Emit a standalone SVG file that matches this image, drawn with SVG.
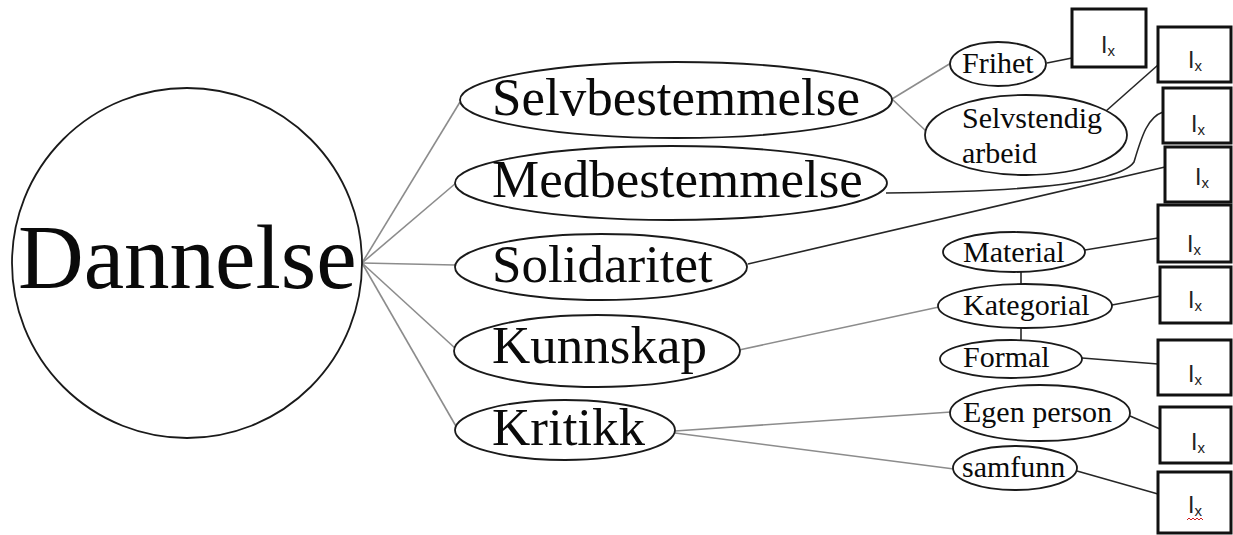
<svg xmlns="http://www.w3.org/2000/svg" width="1233" height="535" viewBox="0 0 1233 535">
  <style>
    .bg { fill: #ffffff; }
    .shape { fill: #ffffff; stroke: #1a1a1a; stroke-width: 1.8; }
    .box { fill: #ffffff; stroke: #111111; stroke-width: 3; }
    .serif { font-family: "Liberation Serif", "Times New Roman", serif; fill: #0a0a0a; }
    .big { font-size: 53px; }
    .small { font-size: 30px; }
    .lbl { font-family: "Liberation Sans", Arial, sans-serif; fill: #222222; font-size: 23px; }
    .sub { font-size: 15px; }
    .grey { fill: none; stroke: #8c8c8c; stroke-width: 1.6; }
    .dark { fill: none; stroke: #262626; stroke-width: 1.6; }
  </style>
  <rect class="bg" x="0" y="0" width="1233" height="535"/>

  <!-- connectors -->
  <g id="connectors">
    <line class="grey" x1="362" y1="263" x2="460" y2="102"/>
    <line class="grey" x1="362" y1="263" x2="456" y2="183"/>
    <line class="grey" x1="362" y1="263" x2="455" y2="265"/>
    <line class="grey" x1="362" y1="263" x2="456" y2="349"/>
    <line class="grey" x1="362" y1="263" x2="457" y2="428"/>
    <line class="grey" x1="892" y1="99" x2="951" y2="63"/>
    <line class="grey" x1="892" y1="99" x2="926" y2="131"/>
    <line class="dark" x1="1047" y1="63" x2="1072" y2="58"/>
    <line class="dark" x1="1106" y1="111" x2="1158" y2="65"/>
    <path class="dark" d="M886,193 C1000,192 1118,186 1134,162 C1142,135 1148,117 1163,112"/>
    <line class="dark" x1="748" y1="264" x2="1165" y2="167"/>
    <line class="grey" x1="739" y1="350" x2="939" y2="307"/>
    <line class="dark" x1="1021" y1="272" x2="1021" y2="285"/>
    <line class="dark" x1="1021" y1="328" x2="1021" y2="340"/>
    <line class="dark" x1="1085" y1="250" x2="1158" y2="238"/>
    <line class="dark" x1="1112" y1="305" x2="1160" y2="296"/>
    <line class="dark" x1="1082" y1="358" x2="1158" y2="364"/>
    <line class="grey" x1="675" y1="431" x2="951" y2="412"/>
    <line class="grey" x1="675" y1="433" x2="954" y2="469"/>
    <line class="dark" x1="1130" y1="416" x2="1160" y2="429"/>
    <line class="dark" x1="1077" y1="471" x2="1158" y2="494"/>
  </g>

  <!-- central node -->
  <g id="dannelse">
    <circle class="shape" cx="187" cy="263" r="175"/>
    <text class="serif" x="18" y="288" font-size="91">Dannelse</text>
  </g>

  <!-- main themes -->
  <g id="selvbestemmelse">
    <ellipse class="shape" cx="676" cy="100" rx="216" ry="38"/>
    <text class="serif big" x="492" y="115">Selvbestemmelse</text>
  </g>
  <g id="medbestemmelse">
    <ellipse class="shape" cx="671" cy="183" rx="216" ry="37"/>
    <text class="serif big" x="492" y="197">Medbestemmelse</text>
  </g>
  <g id="solidaritet">
    <ellipse class="shape" cx="601" cy="267" rx="146" ry="33"/>
    <text class="serif big" x="492" y="282">Solidaritet</text>
  </g>
  <g id="kunnskap">
    <ellipse class="shape" cx="597" cy="351" rx="143" ry="36"/>
    <text class="serif big" x="492" y="363">Kunnskap</text>
  </g>
  <g id="kritikk">
    <ellipse class="shape" cx="565" cy="430" rx="110" ry="30"/>
    <text class="serif big" x="492" y="445">Kritikk</text>
  </g>

  <!-- sub themes -->
  <g id="frihet">
    <ellipse class="shape" cx="998" cy="64" rx="48" ry="22"/>
    <text class="serif small" x="962" y="73">Frihet</text>
  </g>
  <g id="selvstendig-arbeid">
    <ellipse class="shape" cx="1026" cy="135" rx="101" ry="40"/>
    <text class="serif small" x="962" y="128">Selvstendig</text>
    <text class="serif small" x="962" y="163">arbeid</text>
  </g>
  <g id="material">
    <ellipse class="shape" cx="1014" cy="252" rx="71" ry="20"/>
    <text class="serif small" x="963" y="262">Material</text>
  </g>
  <g id="kategorial">
    <ellipse class="shape" cx="1025" cy="306" rx="87" ry="22"/>
    <text class="serif small" x="963" y="315">Kategorial</text>
  </g>
  <g id="formal">
    <ellipse class="shape" cx="1011" cy="359" rx="71" ry="19"/>
    <text class="serif small" x="963" y="367">Formal</text>
  </g>
  <g id="egen-person">
    <ellipse class="shape" cx="1040" cy="413" rx="90" ry="28"/>
    <text class="serif small" x="963" y="422">Egen person</text>
  </g>
  <g id="samfunn">
    <ellipse class="shape" cx="1015" cy="468" rx="62" ry="22"/>
    <text class="serif small" x="962" y="477">samfunn</text>
  </g>

  <!-- index boxes -->
  <g id="ix-1">
    <rect class="box" x="1072" y="9" width="74" height="58"/>
    <text class="lbl" x="1101" y="53">I<tspan class="sub" dy="3">x</tspan></text>
  </g>
  <g id="ix-2">
    <rect class="box" x="1158" y="27" width="73" height="55"/>
    <text class="lbl" x="1188" y="68">I<tspan class="sub" dy="3">x</tspan></text>
  </g>
  <g id="ix-3">
    <rect class="box" x="1163" y="88" width="68" height="55"/>
    <text class="lbl" x="1191" y="132">I<tspan class="sub" dy="3">x</tspan></text>
  </g>
  <g id="ix-4">
    <rect class="box" x="1165" y="147" width="66" height="55"/>
    <text class="lbl" x="1195" y="185">I<tspan class="sub" dy="3">x</tspan></text>
  </g>
  <g id="ix-5">
    <rect class="box" x="1158" y="205" width="73" height="57"/>
    <text class="lbl" x="1187" y="252">I<tspan class="sub" dy="3">x</tspan></text>
  </g>
  <g id="ix-6">
    <rect class="box" x="1160" y="267" width="71" height="56"/>
    <text class="lbl" x="1188" y="308">I<tspan class="sub" dy="3">x</tspan></text>
  </g>
  <g id="ix-7">
    <rect class="box" x="1158" y="340" width="73" height="55"/>
    <text class="lbl" x="1188" y="382">I<tspan class="sub" dy="3">x</tspan></text>
  </g>
  <g id="ix-8">
    <rect class="box" x="1160" y="407" width="71" height="56"/>
    <text class="lbl" x="1191" y="450">I<tspan class="sub" dy="3">x</tspan></text>
  </g>
  <g id="ix-9">
    <rect class="box" x="1158" y="472" width="73" height="61"/>
    <text class="lbl" x="1188" y="513">I<tspan class="sub" dy="3">x</tspan></text>
    <path d="M1187,520 l2,-2 l2,2 l2,-2 l2,2 l2,-2 l2,2 l2,-2 l2,2" fill="none" stroke="#d02020" stroke-width="1"/>
  </g>
</svg>
